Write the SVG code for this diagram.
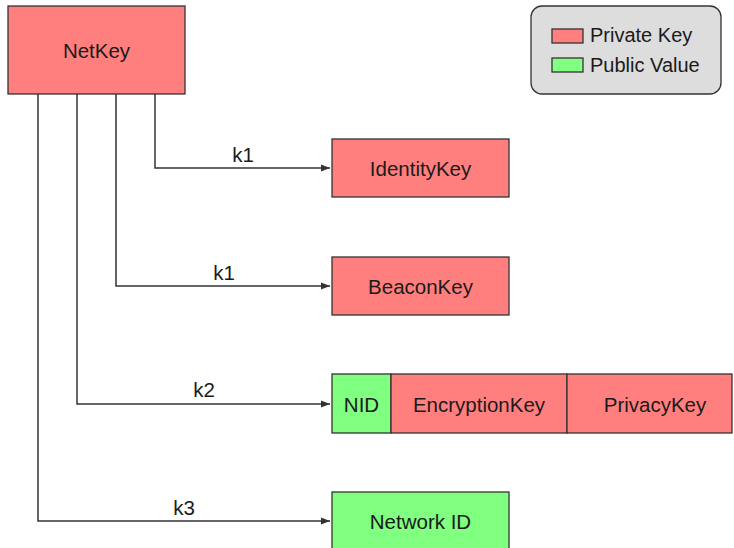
<svg xmlns="http://www.w3.org/2000/svg" width="734" height="548" viewBox="0 0 734 548">
<defs>
<style>
.priv{fill:#ff7f7f;stroke:#333;stroke-width:1.3}
.pub{fill:#80ff80;stroke:#333;stroke-width:1.3}
.t{font-family:"Liberation Sans",Arial,sans-serif;font-size:20.5px;fill:#1a1a1a;text-anchor:middle;dominant-baseline:central}
.lbl{font-family:"Liberation Sans",Arial,sans-serif;font-size:20.5px;fill:#1a1a1a;text-anchor:middle}
.c{fill:none;stroke:#333;stroke-width:1.5}
</style>
<marker id="arr" markerWidth="10" markerHeight="8" refX="9" refY="4" orient="auto" markerUnits="userSpaceOnUse">
<path d="M0,0.5 L9,4 L0,7.5 Z" fill="#333"/>
</marker>
</defs>
<rect width="734" height="548" fill="#fff"/>
<g id="legend">
<rect x="531" y="6" width="190" height="88" rx="11" fill="#dddddd" stroke="#333" stroke-width="1.3"/>
<rect class="priv" x="552" y="29" width="31" height="14"/>
<text class="t" x="590" y="35" style="text-anchor:start;font-size:20px">Private Key</text>
<rect class="pub" x="552" y="58" width="31" height="14"/>
<text class="t" x="590" y="65" style="text-anchor:start;font-size:20px">Public Value</text>
</g>
<g id="connectors">
<path class="c" d="M155,94 V168 H330" marker-end="url(#arr)"/>
<path class="c" d="M116,94 V286 H330" marker-end="url(#arr)"/>
<path class="c" d="M77,94 V404 H330" marker-end="url(#arr)"/>
<path class="c" d="M38,94 V521 H330" marker-end="url(#arr)"/>
<text class="lbl" x="243" y="162">k1</text>
<text class="lbl" x="224" y="280">k1</text>
<text class="lbl" x="204" y="397">k2</text>
<text class="lbl" x="184" y="515">k3</text>
</g>
<g id="netkey">
<rect class="priv" x="8" y="6" width="177" height="88"/>
<text class="t" x="96.5" y="50">NetKey</text>
</g>
<g id="identitykey">
<rect class="priv" x="332" y="139" width="177" height="58"/>
<text class="t" x="420.5" y="168">IdentityKey</text>
</g>
<g id="beaconkey">
<rect class="priv" x="332" y="257" width="177" height="58"/>
<text class="t" x="420.5" y="286">BeaconKey</text>
</g>
<g id="nid">
<rect class="pub" x="332" y="374" width="59" height="59"/>
<text class="t" x="361.5" y="404">NID</text>
</g>
<g id="encryptionkey">
<rect class="priv" x="391" y="374" width="176" height="59"/>
<text class="t" x="479" y="404">EncryptionKey</text>
</g>
<g id="privacykey">
<rect class="priv" x="567" y="374" width="165" height="59"/>
<text class="t" x="655" y="404">PrivacyKey</text>
</g>
<g id="networkid">
<rect class="pub" x="332" y="492" width="177" height="60"/>
<text class="t" x="420.5" y="521">Network ID</text>
</g>
</svg>
